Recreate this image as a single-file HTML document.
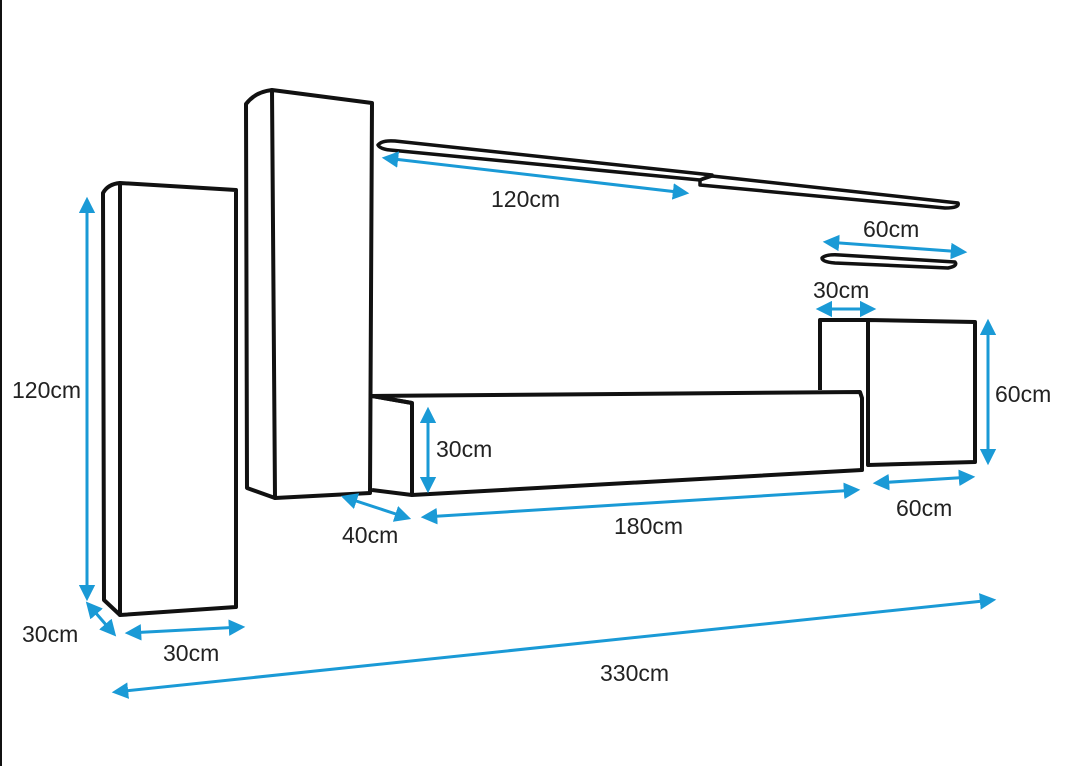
<!DOCTYPE html>
<html><head><style>
html,body{margin:0;padding:0;background:#fff;}
svg{display:block}
text{font-family:"Liberation Sans",sans-serif;font-size:23px;fill:#222;}
</style></head><body>
<svg width="1080" height="766" viewBox="0 0 1080 766" xmlns="http://www.w3.org/2000/svg">
<defs>
<marker id="a" viewBox="0 0 10 10" refX="8" refY="5" markerWidth="5.5" markerHeight="5.5" orient="auto-start-reverse"><path d="M0,0 L10,5 L0,10 z" fill="#1a9ad6"/></marker>
</defs>
<rect x="0" y="0" width="2" height="766" fill="#111"/>
<g fill="none" stroke="#111" stroke-width="4" stroke-linejoin="round">
<path d="M120,183 L236,190 L236,607 L120,615 Z"/>
<path d="M120,183 Q108,184 103,193 L104,600 L120,615"/>
<path d="M272,90 L372,103 L370,493 L275,498 Z"/>
<path d="M272,90 Q255,92 246,104 L247,488 L275,498"/>
<path d="M378,145 Q382,140 395,141 L712,175 L700,180 L390,150 Q380,149 378,145 Z" stroke-width="3.5"/>
<path d="M700,180 L712,176 L958,203 Q960,208 945,208 L700,185 Z" stroke-width="3.5"/>
<path d="M822,258 Q826,254 840,255 L955,262 Q958,266 948,268 L835,263 Q822,262 822,258 Z" stroke-width="3.5"/>
<path d="M372,396 L860,392 L862,398 L862,470 L412,495 L412,403 Z"/>
<path d="M412,403 L372,396 M372,490 L412,495"/>
<path d="M868,320 L975,322 L975,462 L868,465 Z"/>
<path d="M868,320 L820,320 L820,390"/>
</g>
<g stroke="#1a9ad6" stroke-width="3" fill="none" marker-start="url(#a)" marker-end="url(#a)">
<line x1="87" y1="200" x2="87" y2="598"/>
<line x1="88" y1="604" x2="114" y2="634"/>
<line x1="128" y1="633" x2="242" y2="627"/>
<line x1="344" y1="497" x2="408" y2="518"/>
<line x1="424" y1="517" x2="857" y2="490"/>
<line x1="428" y1="410" x2="428" y2="490"/>
<line x1="876" y1="483" x2="972" y2="477"/>
<line x1="988" y1="322" x2="988" y2="462"/>
<line x1="819" y1="309" x2="873" y2="309"/>
<line x1="826" y1="242" x2="964" y2="252"/>
<line x1="385" y1="158" x2="686" y2="193"/>
<line x1="115" y1="692" x2="993" y2="600"/>
</g>
<text x="12" y="398">120cm</text>
<text x="22" y="642">30cm</text>
<text x="163" y="661">30cm</text>
<text x="342" y="543">40cm</text>
<text x="614" y="534">180cm</text>
<text x="436" y="457">30cm</text>
<text x="896" y="516">60cm</text>
<text x="995" y="402">60cm</text>
<text x="813" y="298">30cm</text>
<text x="863" y="237">60cm</text>
<text x="491" y="207">120cm</text>
<text x="600" y="681">330cm</text>
</svg>
</body></html>
